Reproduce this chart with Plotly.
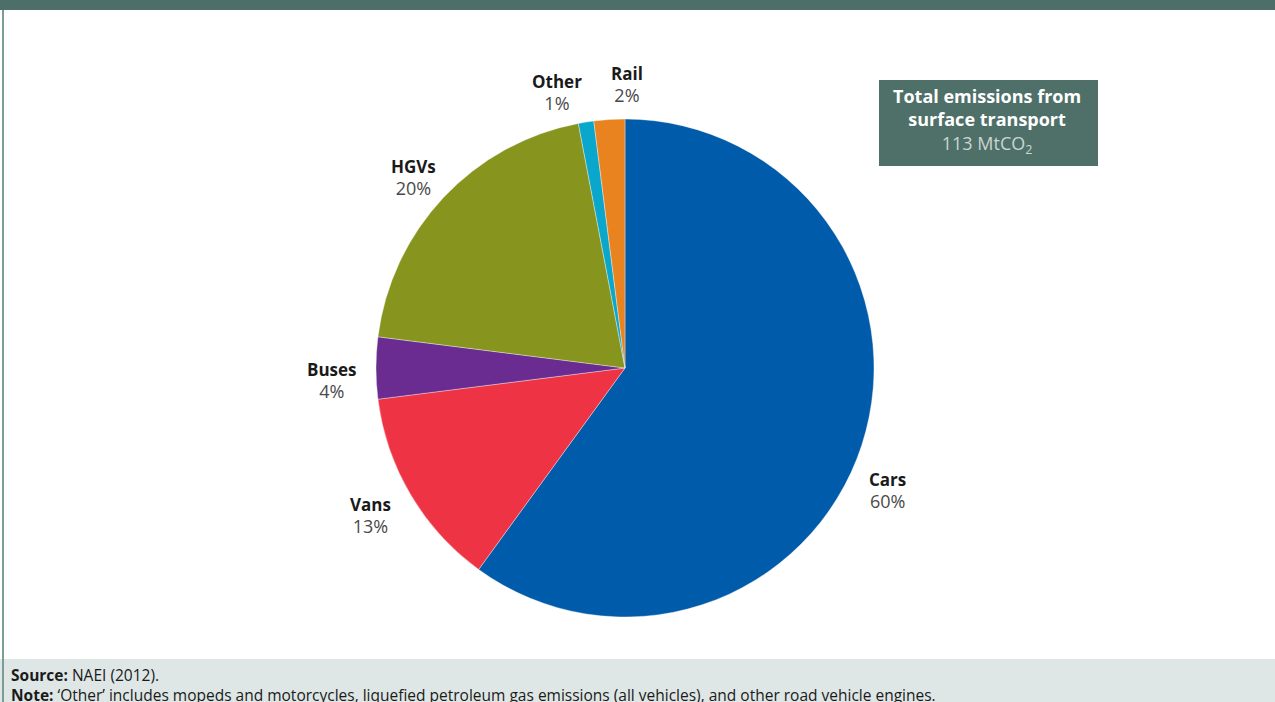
import plotly.graph_objects as go

# Surface transport CO2 emissions by mode (share of total, %)
categories = ["Cars", "Vans", "Buses", "HGVs", "Other", "Rail"]
shares = [60, 13, 4, 20, 1, 2]
colors = ["#005BAA", "#EE3444", "#6A2C90", "#87951E", "#0BA6CB", "#E9831F"]

total_label = "113 MtCO<sub>2</sub>"

W, H = 1275, 702

# pie placement in pixels (centre and radius)
cx, cy, r = 625, 368, 249

# label anchor points in pixels (name line centre)
label_pos = {
    "Cars": (887, 478),
    "Vans": (371, 503),
    "Buses": (332, 369),
    "HGVs": (413, 165),
    "Other": (557, 80),
    "Rail": (627, 73),
}

FONT = "Open Sans"


def px(x):
    return x / W


def py(y):
    return 1 - y / H


fig = go.Figure()
fig.add_trace(go.Pie(
    labels=categories,
    values=shares,
    sort=False,
    direction="clockwise",
    rotation=0,
    textinfo="none",
    hoverinfo="label+percent",
    marker=dict(colors=colors, line=dict(color="rgba(255,255,255,0.6)", width=0.6)),
    domain=dict(x=[px(cx - r), px(cx + r)], y=[py(cy + r), py(cy - r)]),
    showlegend=False,
))

annotations = []
for cat, val in zip(categories, shares):
    x, y = label_pos[cat]
    annotations.append(dict(
        x=px(x), y=py(y + 12), xref="paper", yref="paper",
        xanchor="center", yanchor="middle", showarrow=False,
        text=f"<b>{cat}</b><br><span style='color:#4a4a4a;font-size:18px'>{val}%</span>",
        font=dict(family=FONT, size=17, color="#1a1a1a"),
        align="center",
    ))

# total emissions box
annotations.append(dict(
    x=px(987), y=py(121), xref="paper", yref="paper",
    xanchor="center", yanchor="middle", showarrow=False,
    text=("<b>Total emissions from</b><br><b>surface transport</b><br>"
          f"<span style='color:#c9d6d2'>{total_label}</span>"),
    font=dict(family=FONT, size=18, color="#ffffff"),
    align="center",
))

# footer notes (two lines in one block)
annotations.append(dict(
    x=px(9), y=py(662), xref="paper", yref="paper",
    xanchor="left", yanchor="top", showarrow=False,
    text=("<b>Source:</b> NAEI (2012).<br>"
          "<b>Note:</b> \u2018Other\u2019 includes mopeds and motorcycles, liquefied petroleum gas "
          "emissions (all vehicles), and other road vehicle engines."),
    font=dict(family=FONT, size=15.5, color="#1a1a1a"), align="left",
))

shapes = [
    # header band
    dict(type="rect", xref="paper", yref="paper", x0=0, x1=1, y0=py(10), y1=1.02,
         fillcolor="#4C7069", line=dict(width=0), layer="below"),
    # footer band
    dict(type="rect", xref="paper", yref="paper", x0=0, x1=1, y0=-0.02, y1=py(659),
         fillcolor="#DEE7E5", line=dict(width=0), layer="below"),
    # left frame line
    dict(type="rect", xref="paper", yref="paper", x0=px(2), x1=px(4), y0=-0.02, y1=py(10),
         fillcolor="#7E9C96", line=dict(width=0), layer="below"),
    # total box
    dict(type="rect", xref="paper", yref="paper", x0=px(879), x1=px(1098), y0=py(166), y1=py(80),
         fillcolor="#4E7068", line=dict(width=0), layer="below"),
]

fig.update_layout(
    width=W, height=H,
    margin=dict(l=0, r=0, t=0, b=0),
    paper_bgcolor="#ffffff",
    plot_bgcolor="#ffffff",
    annotations=annotations,
    shapes=shapes,
    font=dict(family=FONT),
)

fig.write_html("out.html")
